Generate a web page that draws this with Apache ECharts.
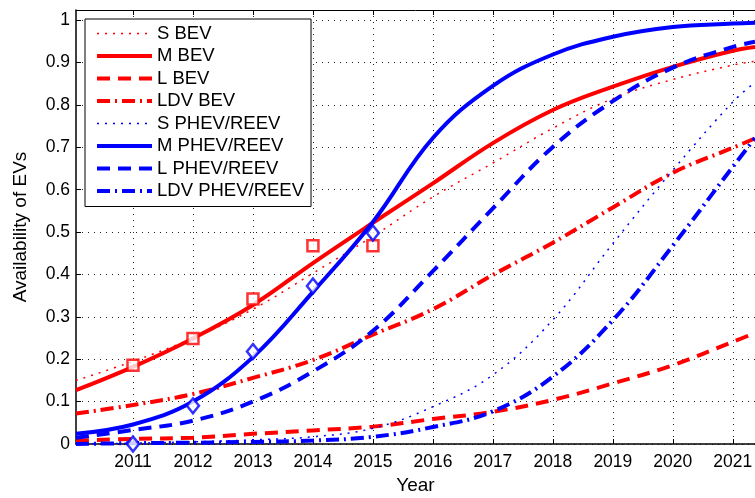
<!DOCTYPE html>
<html>
<head>
<meta charset="utf-8">
<script src="https://cdn.jsdelivr.net/npm/echarts@6/dist/echarts.min.js"></script>
<style>
  html, body { margin: 0; padding: 0; background: #fff; }
  #chart { width: 755px; height: 498px; }
</style>
</head>
<body>
<div id="chart"></div>
<script>
// years the curves were read at (the axis starts just after 2010 and is cut at ~2021.4)
var years = [2010.05, 2011, 2012, 2013, 2014, 2015, 2016, 2017, 2018, 2019, 2020, 2021, 2021.37];

var sBev    = [0.150, 0.195, 0.250, 0.318, 0.403, 0.490, 0.583, 0.663, 0.745, 0.815, 0.860, 0.894, 0.903];
var mBev    = [0.127, 0.182, 0.249, 0.328, 0.427, 0.522, 0.615, 0.710, 0.788, 0.843, 0.890, 0.928, 0.937];
var lBev    = [0.008, 0.012, 0.015, 0.024, 0.032, 0.041, 0.059, 0.076, 0.104, 0.143, 0.186, 0.241, 0.262];
var ldvBev  = [0.072, 0.092, 0.118, 0.156, 0.198, 0.258, 0.318, 0.399, 0.475, 0.558, 0.640, 0.699, 0.721];
var sPhev   = [0.000, 0.002, 0.005, 0.010, 0.017, 0.037, 0.088, 0.163, 0.293, 0.473, 0.646, 0.807, 0.853];
var mPhev   = [0.024, 0.046, 0.100, 0.205, 0.359, 0.524, 0.722, 0.845, 0.919, 0.961, 0.984, 0.992, 0.994];
var lPhev   = [0.015, 0.033, 0.055, 0.100, 0.171, 0.267, 0.408, 0.556, 0.701, 0.809, 0.888, 0.937, 0.949];
var ldvPhev = [0.000, 0.002, 0.003, 0.005, 0.008, 0.017, 0.040, 0.077, 0.159, 0.292, 0.468, 0.654, 0.722];

// observed points (markers)
var obsYears = [2011, 2012, 2013, 2014, 2015];
var bevObs   = [0.186, 0.249, 0.342, 0.468, 0.468];
var phevObs  = [0.000, 0.090, 0.218, 0.373, 0.498];

var yearTicks = [2011, 2012, 2013, 2014, 2015, 2016, 2017, 2018, 2019, 2020, 2021];
var seriesNames = ['S BEV', 'M BEV', 'L BEV', 'LDV BEV', 'S PHEV/REEV', 'M PHEV/REEV', 'L PHEV/REEV', 'LDV PHEV/REEV'];

var FONT = 'Liberation Sans, Arial, Helvetica, sans-serif';
var RED = '#ff0000', BLUE = '#0000ff';

function pairs(xs, ys) {
  return xs.map(function (x, i) { return [x, ys[i]]; });
}

function curve(name, vals, color, width, dash) {
  return {
    name: name,
    type: 'line',
    smooth: 0.4,
    symbol: 'none',
    data: pairs(years, vals),
    lineStyle: { color: color, width: width, type: dash, cap: 'butt' },
    itemStyle: { color: color },
    z: 3
  };
}

var DOT = [2, 6];
var DASH = [13, 8];
var DASHDOT = [13, 5, 2, 5];

var chart = echarts.init(document.getElementById('chart'));

var option = {
  backgroundColor: '#ffffff',
  animation: false,
  textStyle: { fontFamily: FONT },
  grid: { left: 76, right: 0, top: 10, bottom: 54, outerBoundsMode: 'none', containLabel: false },
  legend: {
    data: seriesNames,
    orient: 'vertical',
    left: 85,
    top: 19,
    padding: [5, 7, 6, 10],
    itemWidth: 55,
    itemHeight: 14,
    itemGap: 3.5,
    backgroundColor: '#ffffff',
    borderColor: '#000000',
    borderWidth: 1,
    lineStyle: { width: 'inherit' },
    itemStyle: { opacity: 0 },
    textStyle: { fontFamily: FONT, fontSize: 18.5, color: '#000' },
    selectedMode: false
  },
  xAxis: [{
    type: 'value',
    min: 2010.05,
    max: 2021.37,
    name: 'Year',
    nameLocation: 'middle',
    nameGap: 32,
    nameTextStyle: { fontFamily: FONT, fontSize: 19, color: '#000' },
    axisLine: { lineStyle: { color: '#000', width: 1.5 } },
    axisTick: { inside: true, length: 5, customValues: yearTicks, lineStyle: { color: '#000' } },
    axisLabel: {
      customValues: yearTicks,
      formatter: function (v) { return String(v); },
      fontFamily: FONT, fontSize: 17.5, color: '#000', margin: 9
    },
    splitLine: { show: true, lineStyle: { color: '#222', width: 1, type: [1, 5] } }
  }, {
    type: 'value',
    position: 'top',
    min: 2010.05,
    max: 2021.37,
    axisLine: { lineStyle: { color: '#000', width: 1 } },
    axisTick: { inside: true, length: 5, customValues: yearTicks, lineStyle: { color: '#000' } },
    axisLabel: { show: false },
    splitLine: { show: false }
  }],
  yAxis: {
    type: 'value',
    min: 0,
    max: 1.024,
    interval: 0.1,
    name: 'Availability of EVs',
    nameLocation: 'middle',
    nameGap: 46,
    nameTextStyle: { fontFamily: FONT, fontSize: 19, color: '#000' },
    axisLine: { show: true, lineStyle: { color: '#000', width: 1.5 } },
    axisTick: { show: true, inside: true, length: 5, lineStyle: { color: '#000' } },
    axisLabel: { fontFamily: FONT, fontSize: 17.5, color: '#000', margin: 6, showMaxLabel: false },
    splitLine: { show: true, lineStyle: { color: '#222', width: 1, type: [1, 5] } }
  },
  series: [
    curve('S BEV', sBev, RED, 1.5, DOT),
    curve('M BEV', mBev, RED, 4, 'solid'),
    curve('L BEV', lBev, RED, 4, DASH),
    curve('LDV BEV', ldvBev, RED, 4, DASHDOT),
    curve('S PHEV/REEV', sPhev, BLUE, 1.5, DOT),
    curve('M PHEV/REEV', mPhev, BLUE, 4, 'solid'),
    curve('L PHEV/REEV', lPhev, BLUE, 4, DASH),
    curve('LDV PHEV/REEV', ldvPhev, BLUE, 4, DASHDOT),
    {
      name: 'BEV data',
      type: 'scatter',
      symbol: 'rect',
      symbolSize: 11,
      data: pairs(obsYears, bevObs),
      itemStyle: { color: '#ffffff', borderColor: RED, borderWidth: 2.5 },
      z: 5
    },
    {
      name: 'PHEV data',
      type: 'scatter',
      symbol: 'diamond',
      symbolSize: [12, 15],
      data: pairs(obsYears, phevObs),
      itemStyle: { color: '#ffffff', borderColor: BLUE, borderWidth: 2.5 },
      z: 5
    }
  ]
};

chart.setOption(option);
</script>
</body>
</html>
